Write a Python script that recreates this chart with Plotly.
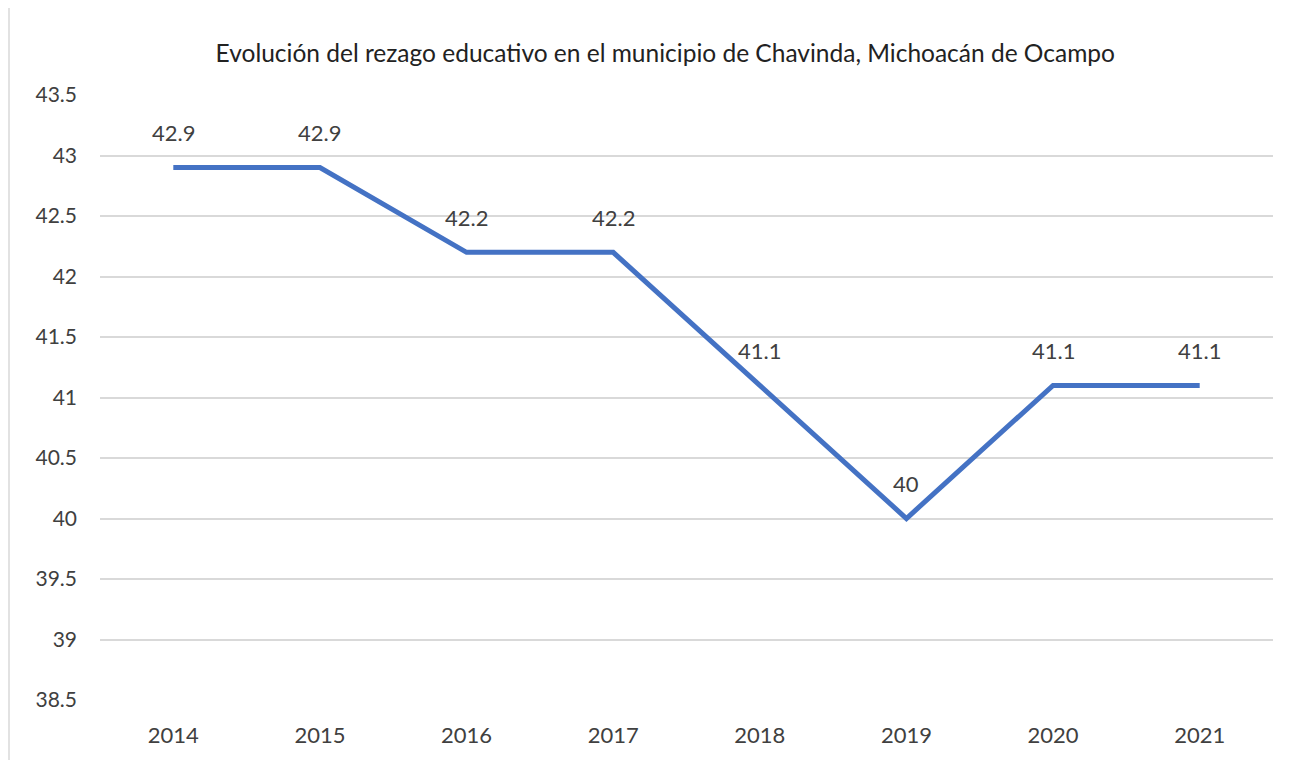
import plotly.graph_objects as go

years = ["2014", "2015", "2016", "2017", "2018", "2019", "2020", "2021"]
values = [42.9, 42.9, 42.2, 42.2, 41.1, 40.0, 41.1, 41.1]
labels = ["42.9", "42.9", "42.2", "42.2", "41.1", "40", "41.1", "41.1"]
y_ticks = [38.5, 39, 39.5, 40, 40.5, 41, 41.5, 42, 42.5, 43, 43.5]
title = "Evolución del rezago educativo en el municipio de Chavinda, Michoacán de Ocampo"

FONT = "Lato"
TXT = "#404040"

fig = go.Figure()
fig.add_trace(go.Scatter(
    x=years, y=values, mode="lines",
    line=dict(color="#4472C4", width=5),
    hoverinfo="x+y", showlegend=False,
))

for i, (y, t) in enumerate(zip(values, labels)):
    fig.add_annotation(x=i, y=y, xref="x", yref="y", text=t, showarrow=False,
                       yshift=35, font=dict(family=FONT, size=22, color=TXT))

fig.update_layout(
    width=1299, height=760,
    paper_bgcolor="white", plot_bgcolor="white",
    margin=dict(l=92, r=34, t=87, b=68),
    title=dict(text=title, x=0.506, xanchor="center", y=0.94, yanchor="middle",
               font=dict(family=FONT, size=24.5, color="#222222")),
    font=dict(family=FONT, color=TXT),
    xaxis=dict(type="category", range=[-0.5, 7.5], autorange=False,
               showgrid=False, showline=False, ticks="",
               tickfont=dict(size=22, color=TXT), ticklabelstandoff=20),
    yaxis=dict(range=[38.5, 43.5], autorange=False, tickvals=y_ticks,
               ticktext=[f"{v:g}" for v in y_ticks],
               showgrid=True, gridcolor="#D9D9D9", gridwidth=1.5,
               zeroline=False, showline=False, ticks="",
               tickfont=dict(size=21, color=TXT), ticklabelstandoff=22),
    shapes=[
        dict(type="line", xref="paper", yref="paper",
             x0=(9 - 100) / 1173, x1=(1299 - 100) / 1173,
             y0=(700 - 5) / 605, y1=(700 - 5) / 605,
             line=dict(color="#D9D9D9", width=1.5)),
        dict(type="line", xref="paper", yref="paper",
             x0=(9 - 100) / 1173, x1=(9 - 100) / 1173,
             y0=(700 - 5) / 605, y1=(700 - 770) / 605,
             line=dict(color="#D9D9D9", width=1.5)),
    ],
)

fig.write_html("out.html")
